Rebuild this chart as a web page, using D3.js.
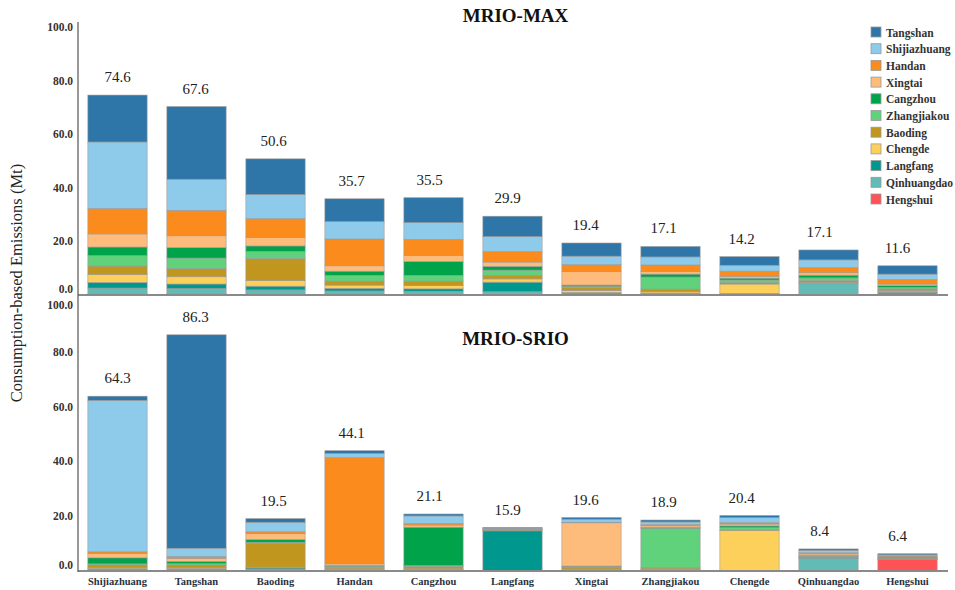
<!DOCTYPE html>
<html>
<head>
<meta charset="utf-8">
<script src="https://cdn.jsdelivr.net/npm/d3@7"></script>
<style>
  body { margin: 0; background: #fff; }
</style>
</head>
<body>
<div id="chart-container"></div>
<script>
// cities on the x axis
const cities = ["Shijiazhuang", "Tangshan", "Baoding", "Handan", "Cangzhou", "Langfang",
  "Xingtai", "Zhangjiakou", "Chengde", "Qinhuangdao", "Hengshui"];

// source regions, stacked bottom -> top
const sources = ["Hengshui", "Qinhuangdao", "Langfang", "Chengde", "Baoding", "Zhangjiakou",
  "Cangzhou", "Xingtai", "Handan", "Shijiazhuang", "Tangshan"];

const sourceColors = ["#ff5257", "#62bbb4", "#00978f", "#fdd05c", "#c0961e", "#5fd27b",
  "#00a24a", "#fdbb7c", "#fb8b1c", "#8ecbea", "#2e76a8"];

// legend reads top -> bottom
const legendOrder = ["Tangshan", "Shijiazhuang", "Handan", "Xingtai", "Cangzhou", "Zhangjiakou",
  "Baoding", "Chengde", "Langfang", "Qinhuangdao", "Hengshui"];

// MRIO-MAX: one row per city, values in the order of `sources`
const maxValues = [
  [0.5, 2.1, 2.1, 2.9, 3.2, 3.9, 3.2, 4.9, 9.5, 24.8, 17.5],
  [0.5, 1.9, 1.7, 2.7, 3.1, 3.9, 3.9, 4.4, 9.5, 11.6, 27.1],
  [0.4, 1.5, 1.4, 2.1, 8.2, 2.7, 2.0, 3.2, 7.0, 9.0, 13.3],
  [0.3, 1.2, 1.0, 1.2, 1.5, 2.1, 1.6, 2.0, 10.0, 6.5, 8.5],
  [0.3, 1.1, 0.9, 1.2, 1.7, 2.1, 5.2, 2.2, 6.1, 6.2, 9.3],
  [0.2, 1.0, 3.6, 1.2, 1.4, 1.9, 1.4, 1.6, 3.9, 5.6, 7.6],
  [0.2, 0.3, 0.4, 0.8, 1.0, 0.5, 0.5, 5.0, 2.6, 3.2, 4.9],
  [0.1, 0.3, 0.3, 0.5, 1.0, 4.5, 1.1, 1.0, 2.4, 3.0, 3.9],
  [0.1, 0.3, 0.2, 3.5, 0.5, 1.0, 0.7, 0.7, 1.9, 2.2, 3.2],
  [0.1, 4.1, 0.2, 0.3, 0.7, 1.0, 1.0, 0.9, 1.9, 2.9, 3.7],
  [0.9, 0.2, 0.2, 0.4, 0.6, 0.6, 0.6, 0.6, 1.7, 2.0, 3.1]
];
const maxLabels = ["74.6", "67.6", "50.6", "35.7", "35.5", "29.9", "19.4", "17.1", "14.2", "17.1", "11.6"];

// MRIO-SRIO
const srioValues = [
  [0.2, 0.4, 0.3, 0.3, 1.0, 0.4, 2.2, 1.6, 0.6, 55.3, 1.5],
  [0.2, 0.4, 0.3, 0.3, 1.0, 0.5, 0.8, 1.1, 0.7, 3.0, 77.9],
  [0.1, 0.6, 0.4, 0.3, 8.7, 0.4, 1.0, 2.1, 0.7, 3.5, 1.3],
  [0.1, 0.3, 0.2, 0.2, 0.4, 0.5, 0.3, 0.6, 38.8, 1.5, 1.0],
  [0.1, 0.3, 0.2, 0.2, 0.9, 0.3, 14.0, 0.8, 0.5, 2.8, 0.7],
  [0.05, 0.1, 14.5, 0.1, 0.2, 0.1, 0.1, 0.1, 0.2, 0.2, 0.2],
  [0.1, 0.2, 0.2, 0.2, 0.5, 0.3, 0.3, 15.8, 0.2, 1.1, 0.6],
  [0.1, 0.3, 0.2, 0.2, 0.4, 14.4, 0.3, 0.6, 0.4, 1.0, 0.7],
  [0.05, 0.1, 0.1, 14.5, 0.3, 0.8, 0.6, 0.7, 0.5, 1.8, 0.8],
  [0.1, 4.5, 0.2, 0.15, 0.3, 0.2, 0.2, 0.6, 0.4, 0.9, 0.5],
  [4.2, 0.1, 0.1, 0.1, 0.2, 0.2, 0.2, 0.2, 0.3, 0.3, 0.4]
];
const srioLabels = ["64.3", "86.3", "19.5", "44.1", "21.1", "15.9", "19.6", "18.9", "20.4", "8.4", "6.4"];

const yTicks = [0, 20, 40, 60, 80, 100];

const width = 955, height = 590;
const marginLeft = 78, plotRight = 947;
const serif = "'Liberation Serif', 'Times New Roman', Times, 'DejaVu Serif', serif";

const svg = d3.select("#chart-container")
  .append("svg")
  .attr("width", width)
  .attr("height", height)
  .attr("font-family", serif);

const color = d3.scaleOrdinal().domain(sources).range(sourceColors);

const x = d3.scaleBand()
  .domain(cities)
  .range([marginLeft, plotRight])
  .paddingInner(0.25)
  .paddingOuter(0.125);

// the value labels drift slightly left across the chart
const labelX = d3.scalePoint()
  .domain(cities)
  .range([x(cities[0]) + x.bandwidth() / 2, x(cities[cities.length - 1]) + x.bandwidth() / 2 - 10]);

function toRows(values) {
  return cities.map((c, i) => {
    const row = { city: c };
    sources.forEach((s, j) => row[s] = values[i][j]);
    return row;
  });
}

function drawPanel(values, labels, title, yTop, yBottom, titleY, isLower) {
  const y = d3.scaleLinear().domain([0, 100]).range([yBottom, yTop]);
  const rows = toRows(values);
  const series = d3.stack().keys(sources)(rows);

  const g = svg.append("g");

  g.selectAll("g.layer")
    .data(series)
    .enter()
    .append("g")
    .attr("class", "layer")
    .attr("fill", (d) => color(d.key))
    .selectAll("rect")
    .data((d) => d)
    .enter()
    .append("rect")
    .attr("x", (d) => x(d.data.city))
    .attr("y", (d) => y(d[1]))
    .attr("width", x.bandwidth())
    .attr("height", (d) => y(d[0]) - y(d[1]))
    .attr("stroke", "#9a9a9a")
    .attr("stroke-width", 0.6);

  // y tick labels
  g.selectAll("text.ytick")
    .data(yTicks)
    .enter()
    .append("text")
    .attr("class", "ytick")
    .attr("x", marginLeft - 5)
    .attr("y", (d) => y(d))
    .attr("dy", (d) => d === 0 ? "-0.2em" : (isLower && d === 100 ? "1.05em" : "0.35em"))
    .attr("text-anchor", "end")
    .style("font-family", serif)
    .style("font-size", "11.5px")
    .style("font-weight", "bold")
    .style("fill", "#333")
    .text((d) => d.toFixed(1));

  // x axis line
  g.append("line")
    .attr("x1", marginLeft)
    .attr("x2", plotRight + 1)
    .attr("y1", yBottom)
    .attr("y2", yBottom)
    .attr("stroke", "#8a8a8a")
    .attr("stroke-width", 2);

  // totals above bars
  g.selectAll("text.total")
    .data(rows)
    .enter()
    .append("text")
    .attr("class", "total")
    .attr("x", (d) => labelX(d.city))
    .attr("y", (d) => y(d3.sum(sources, (s) => d[s])) - 13)
    .attr("text-anchor", "middle")
    .style("font-family", serif)
    .style("font-size", "15px")
    .style("fill", "#222")
    .text((d, i) => labels[i]);

  g.append("text")
    .attr("x", (marginLeft + plotRight) / 2 + 3)
    .attr("y", titleY)
    .attr("text-anchor", "middle")
    .style("font-family", serif)
    .style("font-size", "19px")
    .style("font-weight", "bold")
    .style("fill", "#111")
    .text(title);

  return y;
}

drawPanel(maxValues, maxLabels, "MRIO-MAX", 27, 295, 22, false);
drawPanel(srioValues, srioLabels, "MRIO-SRIO", 297, 571, 345, true);

// shared y axis line
svg.append("line")
  .attr("x1", marginLeft)
  .attr("x2", marginLeft)
  .attr("y1", 22)
  .attr("y2", 572)
  .attr("stroke", "#555")
  .attr("stroke-width", 1.2);

// city names
svg.selectAll("text.city")
  .data(cities)
  .enter()
  .append("text")
  .attr("class", "city")
  .attr("x", (d) => x(d) + x.bandwidth() / 2)
  .attr("y", 585)
  .attr("text-anchor", "middle")
  .style("font-family", serif)
  .style("font-size", "10.5px")
  .style("font-weight", "bold")
  .style("fill", "#2a3340")
  .text((d) => d);

// y axis title
svg.append("text")
  .attr("transform", "translate(22,283)rotate(-90)")
  .attr("text-anchor", "middle")
  .style("font-family", serif)
  .style("font-size", "16.5px")
  .style("fill", "#222")
  .text("Consumption-based Emissions (Mt)");

// legend
const legend = svg.append("g").attr("transform", "translate(871,27)");
const item = legend.selectAll("g")
  .data(legendOrder)
  .enter()
  .append("g")
  .attr("transform", (d, i) => "translate(0," + (i * 16.7) + ")");

item.append("rect")
  .attr("width", 10)
  .attr("height", 10)
  .attr("fill", (d) => color(d))
  .attr("stroke", "#999")
  .attr("stroke-width", 0.8);

item.append("text")
  .attr("x", 15)
  .attr("y", 9.5)
  .style("font-family", serif)
  .style("font-size", "11.5px")
  .style("font-weight", "bold")
  .style("fill", "#333")
  .text((d) => d);
</script>
</body>
</html>
